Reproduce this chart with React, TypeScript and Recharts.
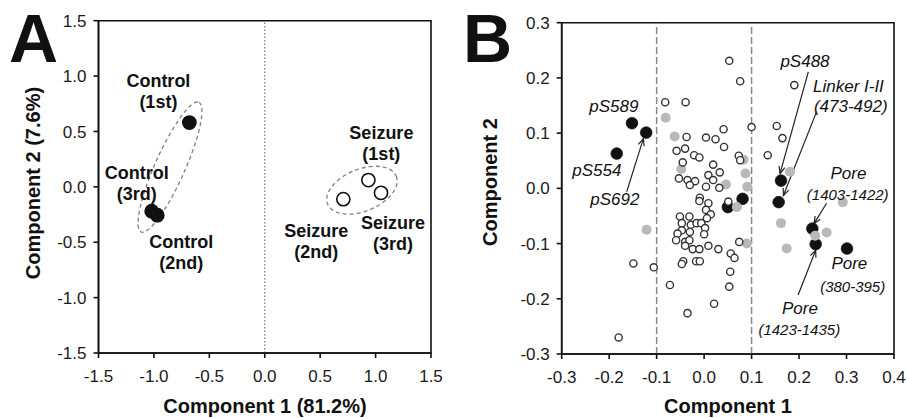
import React from "react";
import { ScatterChart, Scatter, XAxis, YAxis, ReferenceLine, ReferenceArea, Label } from "recharts";

const FONT = '"Liberation Sans", Arial, Helvetica, sans-serif';

// ---- Panel A: samples on the first two components ----
const controlNames = ["Control (1st)", "Control (2nd)", "Control (3rd)"];
const controlX = [-0.68, -0.97, -1.02];
const controlY = [0.58, -0.256, -0.22];

const seizureNames = ["Seizure (1st)", "Seizure (2nd)", "Seizure (3rd)"];
const seizureX = [0.935, 0.709, 1.049];
const seizureY = [0.061, -0.111, -0.054];

const ticksA = [-1.5, -1.0, -0.5, 0, 0.5, 1.0, 1.5];

// group ellipses, centre in data units
const groupCentres = [
  { name: "control", x: -0.855, y: 0.178 },
  { name: "seizure", x: 0.877, y: -0.03 },
];

// ---- Panel B: peptides ----
const phosphoPeptides: [number, number][] = [
  [-0.152, 0.118], [-0.122, 0.101], [-0.184, 0.063], [0.162, 0.014], [0.157, -0.025],
  [0.081, -0.019], [0.05, -0.034], [0.228, -0.073], [0.235, -0.101], [0.301, -0.109],
];

const grayPeptides: [number, number][] = [
  [-0.081, 0.128], [-0.062, 0.094], [-0.048, 0.035], [-0.121, -0.075], [0.046, 0.007],
  [0.083, 0.052], [0.087, 0.027], [0.091, 0.003], [0.069, -0.034], [0.09, -0.1],
  [0.181, 0.03], [0.162, -0.063], [0.174, -0.109], [0.258, -0.08], [0.234, -0.086],
  [0.292, -0.025],
];

const otherPeptides: [number, number][] = [
  [0.053, 0.231], [0.076, 0.194], [-0.082, 0.156], [-0.039, 0.156], [0.1, 0.111],
  [0.19, 0.187], [0.153, 0.113], [0.165, 0.091], [0.134, 0.06], [-0.037, 0.093],
  [0.004, 0.092], [0.024, 0.089], [0.041, 0.107], [0.042, 0.075], [0.073, 0.059],
  [0.076, 0.051], [-0.058, 0.068], [-0.04, 0.072], [-0.021, 0.06], [-0.01, 0.056],
  [-0.045, 0.047], [0.019, 0.043], [0.033, 0.029], [0.009, 0.024], [0.019, 0.015],
  [-0.053, 0.018], [-0.035, 0.015], [-0.019, 0.013], [-0.03, 0.006], [0.004, 0.003],
  [0.032, 0.001], [-0.009, -0.017], [-0.01, -0.023], [0.009, -0.027], [0.051, -0.024],
  [0.004, -0.039], [0.014, -0.047], [-0.051, -0.051], [-0.031, -0.051], [0.006, -0.054],
  [-0.047, -0.063], [-0.028, -0.066], [-0.016, -0.063], [-0.006, -0.063], [0.002, -0.072],
  [-0.047, -0.076], [-0.03, -0.079], [-0.056, -0.082], [0.0, -0.083], [-0.059, -0.094],
  [-0.04, -0.097], [-0.031, -0.094], [-0.04, -0.104], [-0.024, -0.11], [-0.01, -0.11],
  [0.009, -0.104], [0.03, -0.11], [0.056, -0.118], [0.064, -0.126], [0.074, -0.097],
  [-0.149, -0.136], [-0.106, -0.143], [-0.044, -0.132], [-0.047, -0.137], [-0.017, -0.132],
  [-0.009, -0.132], [0.055, -0.151], [-0.072, -0.175], [0.053, -0.178], [0.021, -0.209],
  [-0.035, -0.226], [-0.18, -0.27],
];

const ticksBX = [-0.3, -0.2, -0.1, 0, 0.1, 0.2, 0.3, 0.4];
const ticksBY = [-0.3, -0.2, -0.1, 0, 0.1, 0.2, 0.3];
const cutoffsB = [-0.1, 0.1];

// annotation text anchors (data units)
const namesB = [
  { text: "pS589", x: -0.19, y: 0.149 },
  { text: "pS554", x: -0.226, y: 0.033 },
  { text: "pS692", x: -0.188, y: -0.021 },
  { text: "pS488", x: 0.2125, y: 0.229 },
  { text: "Linker I-II", x: 0.304, y: 0.185 },
  { text: "(473-492)", x: 0.309, y: 0.149 },
  { text: "Pore", x: 0.304, y: 0.027 },
  { text: "Pore", x: 0.306, y: -0.137 },
  { text: "Pore", x: 0.202, y: -0.217 },
];
const rangesB = [
  { text: "(1403-1422)", x: 0.3025, y: -0.011 },
  { text: "(380-395)", x: 0.313, y: -0.177 },
  { text: "(1423-1435)", x: 0.2005, y: -0.2565 },
];
const arrowsB = [
  { from: [-0.163, -0.006], to: [-0.128, 0.09] },
  { from: [0.2195, 0.211], to: [0.16, 0.027] },
  { from: [0.237, 0.139], to: [0.167, -0.013] },
  { from: [0.258, -0.027], to: [0.2315, -0.064] },
  { from: [0.198, -0.193], to: [0.235, -0.112] },
];

// label placement for panel A (px from the point, first line centre)
const labelOffsetA: Record<string, [number, number]> = {
  "Control (1st)": [-31, -42],
  "Control (2nd)": [24, 27],
  "Control (3rd)": [-15, -38],
  "Seizure (1st)": [13, -47],
  "Seizure (2nd)": [-27, 32],
  "Seizure (3rd)": [12, 30],
};
const ellipseStyle: Record<string, { rx: number; ry: number; angle: number }> = {
  control: { rx: 71, ry: 15, angle: -66 },
  seizure: { rx: 37, ry: 21, angle: -22 },
};

const toPts = (xs: number[], ys: number[], names: string[]) =>
  xs.map((x, i) => ({ x, y: ys[i], name: names[i] }));
const pairs = (arr: [number, number][]) => arr.map(([x, y]) => ({ x, y }));

const controlData = toPts(controlX, controlY, controlNames);
const seizureData = toPts(seizureX, seizureY, seizureNames);

const sampleShape = (fill: string) => (p: any) => {
  const [dx, dy] = labelOffsetA[p.payload.name] || [0, 0];
  const [word, rank] = p.payload.name.split(" ");
  return (
    <g>
      <circle cx={p.cx} cy={p.cy} r={6.6} fill={fill} stroke="#111" strokeWidth={1.6} />
      <text x={p.cx + dx} y={p.cy + dy} textAnchor="middle" dominantBaseline="central"
        fontSize={18} fontWeight="bold" fill="#111" fontFamily={FONT}>
        <tspan x={p.cx + dx} dy={0}>{word}</tspan>
        <tspan x={p.cx + dx} dy={21}>{rank}</tspan>
      </text>
    </g>
  );
};

const ellipseShape = (p: any) => {
  const s = ellipseStyle[p.payload.name];
  return (
    <ellipse cx={p.cx} cy={p.cy} rx={s.rx} ry={s.ry} fill="none" stroke="#808080"
      strokeWidth={1.3} strokeDasharray="4 3" transform={`rotate(${s.angle} ${p.cx} ${p.cy})`} />
  );
};

const dotShape = (r: number, fill: string, stroke: string, sw: number) => (p: any) =>
  <circle cx={p.cx} cy={p.cy} r={r} fill={fill} stroke={stroke} strokeWidth={sw} />;

const noteShape = (size: number) => (p: any) => (
  <text x={p.cx} y={p.cy} textAnchor="middle" dominantBaseline="central" fontSize={size}
    fontStyle="italic" fill="#111" fontFamily={FONT}>{p.payload.text}</text>
);

const arrowShape = (p: any) => {
  const { x1, y1, x2, y2 } = p;
  const a = Math.atan2(y2 - y1, x2 - x1);
  const L = 7, W = 3;
  const bx = x2 - L * Math.cos(a), by = y2 - L * Math.sin(a);
  const pts = `${bx + W * Math.sin(a)},${by - W * Math.cos(a)} ${x2},${y2} ${bx - W * Math.sin(a)},${by + W * Math.cos(a)}`;
  return (
    <g>
      <line x1={x1} y1={y1} x2={x2} y2={y2} stroke="#222" strokeWidth={1.2} />
      <polyline points={pts} fill="none" stroke="#222" strokeWidth={1.2} />
    </g>
  );
};

const tickStyle = { fill: "#1a1a1a", fontSize: 17, fontFamily: FONT };
const axisLine = { stroke: "#111", strokeWidth: 1.6 };
const fmt = (v: number) => v.toFixed(1);

const titleX = (text: string, cx: number, cy: number) => () => (
  <text x={cx} y={cy} textAnchor="middle" dominantBaseline="central" fontSize={20}
    fontWeight="bold" fill="#111" fontFamily={FONT}>{text}</text>
);
const titleY = (text: string, cx: number, cy: number) => () => (
  <text x={cx} y={cy} textAnchor="middle" dominantBaseline="central" fontSize={20}
    fontWeight="bold" fill="#111" fontFamily={FONT} transform={`rotate(-90 ${cx} ${cy})`}>{text}</text>
);

const PanelA = () => (
  <ScatterChart width={450} height={418} margin={{ top: 20.7, right: 19, bottom: 35, left: 38.5 }}>
    <XAxis type="number" dataKey="x" domain={[-1.5, 1.5]} ticks={ticksA} tickFormatter={fmt}
      tick={tickStyle} axisLine={axisLine} tickLine={axisLine} tickSize={5} tickMargin={12}
      height={30} allowDataOverflow>
      <Label content={titleX("Component 1 (81.2%)", 265, 406)} />
    </XAxis>
    <YAxis type="number" dataKey="y" domain={[-1.5, 1.5]} ticks={ticksA} tickFormatter={fmt}
      tick={tickStyle} axisLine={axisLine} tickLine={axisLine} tickSize={5} tickMargin={7}
      width={60} allowDataOverflow>
      <Label content={titleY("Component 2 (7.6%)", 33, 183)} />
    </YAxis>
    <ReferenceArea x1={-1.5} x2={1.5} y1={-1.5} y2={1.5} fill="none" stroke="#111" strokeWidth={1.6} />
    <ReferenceLine x={0} stroke="#777" strokeWidth={1.2} strokeDasharray="1.5 2" />
    <Scatter data={groupCentres} shape={ellipseShape} isAnimationActive={false} />
    <Scatter data={controlData} shape={sampleShape("#111")} isAnimationActive={false} />
    <Scatter data={seizureData} shape={sampleShape("#fff")} isAnimationActive={false} />
  </ScatterChart>
);

const PanelB = () => (
  <ScatterChart width={457} height={418} margin={{ top: 22.7, right: 13, bottom: 34, left: 51.7 }}>
    <XAxis type="number" dataKey="x" domain={[-0.3, 0.4]} ticks={ticksBX} tickFormatter={fmt}
      tick={tickStyle} axisLine={axisLine} tickLine={axisLine} tickSize={5} tickMargin={12}
      height={30} allowDataOverflow>
      <Label content={titleX("Component 1", 278, 406)} />
    </XAxis>
    <YAxis type="number" dataKey="y" domain={[-0.3, 0.3]} ticks={ticksBY} tickFormatter={fmt}
      tick={tickStyle} axisLine={axisLine} tickLine={axisLine} tickSize={5} tickMargin={7}
      width={60} allowDataOverflow>
      <Label content={titleY("Component 2", 40, 182)} />
    </YAxis>
    <ReferenceArea x1={-0.3} x2={0.4} y1={-0.3} y2={0.3} fill="none" stroke="#111" strokeWidth={1.6} />
    {cutoffsB.map((c) => (
      <ReferenceLine key={c} x={c} stroke="#888" strokeWidth={1.5} strokeDasharray="7 3" />
    ))}
    {arrowsB.map((a, i) => (
      <ReferenceLine key={"ar" + i} segment={[{ x: a.from[0], y: a.from[1] }, { x: a.to[0], y: a.to[1] }]}
        shape={arrowShape} />
    ))}
    <Scatter data={pairs(phosphoPeptides)} shape={dotShape(5.8, "#111", "#111", 0.8)} isAnimationActive={false} />
    <Scatter data={pairs(grayPeptides)} shape={dotShape(5, "#b9b9b9", "none", 0)} isAnimationActive={false} />
    <Scatter data={pairs(otherPeptides)} shape={dotShape(3.6, "#fff", "#333", 1.4)} isAnimationActive={false} />
    <Scatter data={namesB} shape={noteShape(17)} isAnimationActive={false} />
    <Scatter data={rangesB} shape={noteShape(15)} isAnimationActive={false} />
  </ScatterChart>
);

export default function App() {
  return (
    <div style={{ position: "absolute", left: 0, top: 0, width: 907, height: 418, background: "#fff", fontFamily: FONT }}>
      <div style={{ position: "absolute", left: 0, top: 0 }}><PanelA /></div>
      <div style={{ position: "absolute", left: 450, top: 0 }}><PanelB /></div>
      <svg width={907} height={418} style={{ position: "absolute", left: 0, top: 0, pointerEvents: "none" }}>
        <text x={9} y={62} fontSize={68} fontWeight="bold" fill="#111" fontFamily={FONT}>A</text>
        <text x={463} y={62} fontSize={68} fontWeight="bold" fill="#111" fontFamily={FONT}>B</text>
      </svg>
    </div>
  );
}
